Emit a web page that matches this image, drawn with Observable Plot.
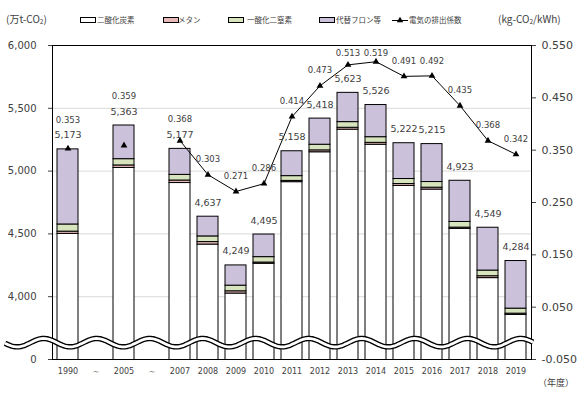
<!DOCTYPE html>
<html><head><meta charset="utf-8">
<script src="https://cdn.jsdelivr.net/npm/d3@7"></script>
<script src="https://cdn.jsdelivr.net/npm/@observablehq/plot@0.6"></script>
<style>
body{margin:0;background:#fff;}
#wrap{position:relative;width:583px;height:398px;overflow:hidden;font-family:"DejaVu Sans",sans-serif;}
.lg{position:absolute;font-family:"Noto Sans CJK JP",sans-serif;font-size:7.5px;color:#404040;line-height:1;white-space:nowrap;}
.box{position:absolute;width:14px;height:4px;border:1px solid #000;}
.unit{position:absolute;font-family:"Noto Sans CJK JP",sans-serif;font-size:10px;color:#404040;line-height:1;white-space:nowrap;}
.unit sub{font-size:6.5px;vertical-align:-1px;}
</style></head><body><div id="wrap"></div>
<script>
// categories along the x axis (two gap slots "～")
const categories = ["1990","gap1","2005","gap2","2007","2008","2009","2010","2011","2012","2013","2014","2015","2016","2017","2018","2019"];
const tickLabels = ["1990","～","2005","～","2007","2008","2009","2010","2011","2012","2013","2014","2015","2016","2017","2018","2019"];
const years = ["1990","2005","2007","2008","2009","2010","2011","2012","2013","2014","2015","2016","2017","2018","2019"];
const gases = ["二酸化炭素","メタン","一酸化二窒素","代替フロン等"];
const gasColors = ["#ffffff","#e6b9b8","#d7e4bd","#ccc1da"];
const co2 = [4500,5025,4905,4415,4025,4262,4912,5150,5330,5210,4882,4853,4540,4148,3855];
const ch4 = [18,20,20,20,18,10,10,15,15,15,15,15,10,15,10];
const n2o = [57,50,45,45,45,43,38,45,45,45,40,45,45,45,40];
const hfc = [598,268,207,157,161,180,198,208,233,256,285,302,328,341,379];
const totals = [5173,5363,5177,4637,4249,4495,5158,5418,5623,5526,5222,5215,4923,4549,4284];
const coef = [0.353,0.359,0.368,0.303,0.271,0.286,0.414,0.473,0.513,0.519,0.491,0.492,0.435,0.368,0.342];
const leftTicks = [3500,4000,4500,5000,5500,6000];
const leftTickLabels = ["0","4,000","4,500","5,000","5,500","6,000"];
const rightTicks = [-0.05,0.05,0.15,0.25,0.35,0.45,0.55];
const rightTickLabels = ["-0.050","0.050","0.150","0.250","0.350","0.450","0.550"];

// left axis shows 3,500–6,000 (万t-CO2); right axis -0.05–0.55 over the same height
const Y0 = 3500, Y1 = 6000, R0 = -0.05, R1 = 0.55;
const toLeft = c => Y0 + (c - R0) / (R1 - R0) * (Y1 - Y0);

const series = [co2, ch4, n2o, hfc];
const rows = years.flatMap((y, i) => gases.map((g, k) => ({year: y, gas: g, value: series[k][i]})));
const pts = years.map((y, i) => ({year: y, c: coef[i], yc: toLeft(coef[i]), total: totals[i]}));
const linePts = pts.slice(2); // line drawn from 2007 on
// coefficient label sits above the point or above the bar's total label, kept inside the frame
const coefLabelY = d => Math.min(Math.max(d.yc, d.total + 112) + 120, 5935);

const chart = Plot.plot({
  width: 583, height: 398,
  marginTop: 45, marginBottom: 39, marginLeft: 52, marginRight: 52,
  style: {fontFamily: "DejaVu Sans, sans-serif", fontSize: "10px", color: "#404040", background: "transparent"},
  x: {type: "band", domain: categories, paddingInner: 0.24, paddingOuter: 0.12, label: null},
  y: {domain: [Y0, Y1], label: null},
  color: {domain: gases, range: gasColors},
  marks: [
    Plot.gridY([4000,4500,5000,5500], {stroke: "#d9d9d9", strokeOpacity: 1}),
    Plot.barY(rows, {x: "year", y: "value", fill: "gas", order: gases, stroke: "#000", strokeWidth: 1, clip: true}),
    Plot.line(linePts, {x: "year", y: "yc", stroke: "#000", strokeWidth: 1}),
    Plot.dot(pts, {x: "year", y: "yc", symbol: "triangle", r: 2.5, fill: "#000", stroke: null}),
    Plot.text(pts, {x: "year", y: "total", text: d => d3.format(",")(d.total), dy: -14, fontSize: 9.5, fill: "#404040"}),
    Plot.text(pts, {x: "year", y: coefLabelY, text: d => d.c.toFixed(3), fontSize: 8.5, fill: "#404040"}),
    Plot.frame({stroke: "#000"}),
    Plot.axisY(leftTicks, {anchor: "left", label: null, tickSize: 4, tickPadding: 12, fontSize: 10, tickFormat: d => leftTickLabels[leftTicks.indexOf(d)]}),
    Plot.axisY(rightTicks.map(toLeft), {anchor: "right", label: null, tickSize: 4, tickPadding: 6, fontSize: 11, tickFormat: d => rightTickLabels[rightTicks.map(toLeft).indexOf(d)]}),
    Plot.axisX({label: null, tickSize: 0, tickPadding: 9, fontSize: 8, tickFormat: d => tickLabels[categories.indexOf(d)]})
  ]
});

// axis-break wave (decoration)
const svg = d3.select(chart);
const yb = chart.scale("y").apply(3630);
const wave = d3.range(5, 534, 1).map(x => [x, yb - 4.2 * Math.cos(2 * Math.PI * (x - 96.7) / 53)]);
const ln = d3.line();
svg.append("path").attr("d", ln(wave)).attr("fill", "none").attr("stroke", "#000").attr("stroke-width", 5.5);
svg.append("path").attr("d", ln(wave)).attr("fill", "none").attr("stroke", "#fff").attr("stroke-width", 2.8);

const wrap = document.getElementById("wrap");
wrap.appendChild(chart);
chart.style.position = "absolute"; chart.style.left = "0"; chart.style.top = "0";

function add(html, cls, left, top, extra) {
  const d = document.createElement("div");
  d.className = cls; d.innerHTML = html;
  d.style.left = left + "px"; d.style.top = top + "px";
  if (extra) Object.assign(d.style, extra);
  wrap.appendChild(d);
  return d;
}
add("(万t-CO<sub>2</sub>)", "unit", 6, 14);
add("(kg-CO<sub>2</sub>/kWh)", "unit", 498, 14);
const legendX = [[80, 97], [163, 178], [228, 247], [319, 336]];
gases.forEach((g, i) => {
  add("", "box", legendX[i][0], 17, {background: gasColors[i]});
  add(g, "lg", legendX[i][1], 16);
});
// line legend
const lsvg = d3.select(wrap).append("svg").attr("width", 18).attr("height", 10)
  .style("position", "absolute").style("left", "391px").style("top", "15px");
lsvg.append("line").attr("x1", 1).attr("x2", 17).attr("y1", 5.5).attr("y2", 5.5).attr("stroke", "#000");
lsvg.append("path").attr("d", d3.symbol(d3.symbolTriangle, 18)()).attr("transform", "translate(9,5.5)").attr("fill", "#000");
add("電気の排出係数", "lg", 409, 16);
add("（年度）", "lg", 538, 378, {fontSize: "9px"});
</script></body></html>
